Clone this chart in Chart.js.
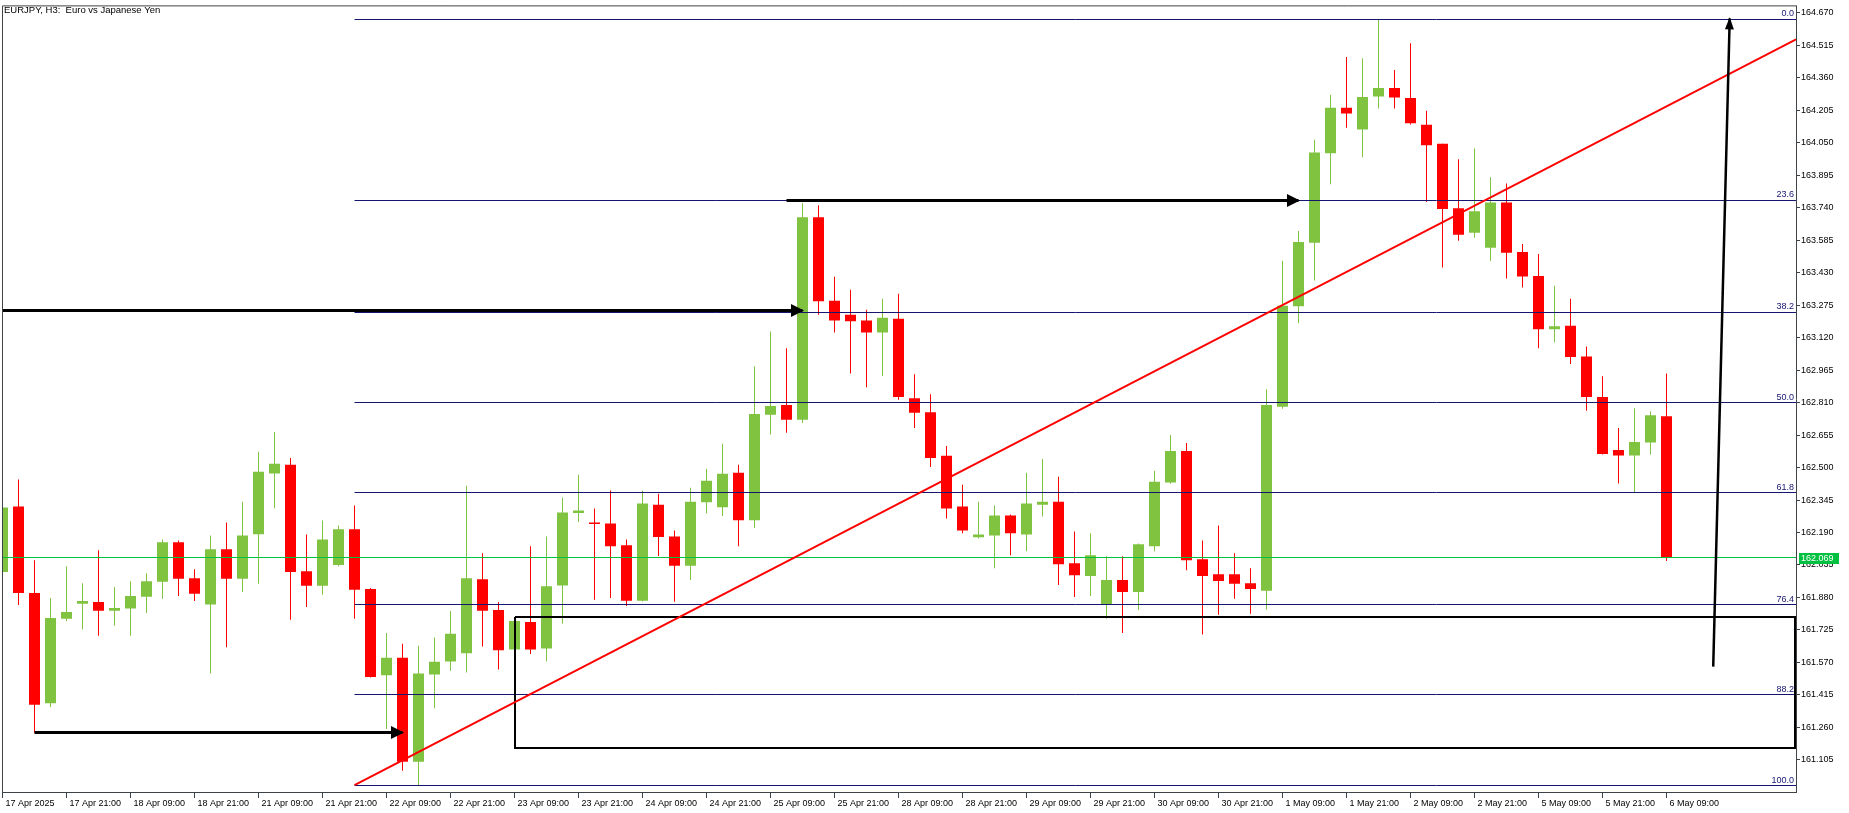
<!DOCTYPE html>
<html><head><meta charset="utf-8">
<script src="https://cdn.jsdelivr.net/npm/chart.js@4.4.1/dist/chart.umd.min.js"></script>
<style>html,body{margin:0;padding:0;background:#fff;overflow:hidden}canvas{display:block}</style>
</head><body>
<canvas id="c" width="1849" height="813"></canvas>
<script>
const chartTitle = 'EURJPY, H3:  Euro vs Japanese Yen';

const xTickIndex = [0,4,8,12,16,20,24,28,32,36,40,44,48,52,56,60,64,68,72,76,80,84,88,92,96,100,104];
const xTickLabels = ['17 Apr 2025','17 Apr 21:00','18 Apr 09:00','18 Apr 21:00','21 Apr 09:00','21 Apr 21:00',
  '22 Apr 09:00','22 Apr 21:00','23 Apr 09:00','23 Apr 21:00','24 Apr 09:00','24 Apr 21:00','25 Apr 09:00',
  '25 Apr 21:00','28 Apr 09:00','28 Apr 21:00','29 Apr 09:00','29 Apr 21:00','30 Apr 09:00','30 Apr 21:00',
  '1 May 09:00','1 May 21:00','2 May 09:00','2 May 21:00','5 May 09:00','5 May 21:00','6 May 09:00'];
const yTickLabels = ['164.670','164.515','164.360','164.205','164.050','163.895','163.740','163.585','163.430',
  '163.275','163.120','162.965','162.810','162.655','162.500','162.345','162.190','162.035','161.880',
  '161.725','161.570','161.415','161.260','161.105'];

const open = [
162.002,162.314,161.901,161.376,161.779,161.850,161.858,161.817,161.827,161.884,
161.955,162.143,161.972,161.846,162.110,161.969,162.182,162.472,162.513,162.005,
161.936,162.035,162.205,161.920,161.509,161.593,161.096,161.513,161.575,161.614,
161.967,161.820,161.632,161.763,161.637,161.937,162.283,162.238,162.233,162.129,
161.864,162.323,162.171,162.031,162.334,162.310,162.475,162.249,162.752,162.798,
162.728,163.694,163.296,163.229,163.201,163.144,163.210,162.831,162.764,162.556,
162.314,162.167,162.176,162.271,162.181,162.323,162.337,162.043,161.982,161.844,
161.963,161.906,162.124,162.428,162.579,162.062,161.991,161.991,161.948,161.912,
162.790,163.269,163.572,163.999,164.216,164.113,164.270,164.311,164.263,164.135,
164.045,163.737,163.620,163.549,163.765,163.528,163.414,163.160,163.177,163.030,
162.836,162.584,162.557,162.619,162.745];
const high = [
162.337,162.443,162.058,161.877,162.029,161.948,162.105,161.929,161.958,161.996,
162.157,162.152,162.015,162.176,162.238,162.337,162.575,162.670,162.546,162.181,
162.247,162.224,162.319,161.925,161.711,161.659,161.650,161.689,161.816,162.413,
162.091,161.858,161.778,162.124,162.171,162.356,162.466,162.304,162.390,162.157,
162.390,162.375,162.200,162.404,162.494,162.613,162.513,162.983,163.149,163.069,
163.761,163.751,163.410,163.348,163.253,163.305,163.329,162.945,162.850,162.603,
162.418,162.337,162.319,162.276,162.475,162.541,162.456,162.195,162.186,162.077,
162.077,162.138,162.485,162.655,162.617,162.152,162.224,162.091,162.020,162.874,
163.487,163.628,164.064,164.278,164.458,164.453,164.638,164.396,164.524,164.202,
164.045,163.971,164.022,163.885,163.855,163.566,163.519,163.367,163.305,163.078,
162.935,162.689,162.783,162.769,162.949];
const low = [
161.977,161.844,161.235,161.357,161.768,161.727,161.697,161.745,161.697,161.806,
161.874,161.887,161.863,161.517,161.642,161.906,161.945,162.306,161.774,161.835,
161.893,162.029,161.779,161.498,161.253,161.053,160.982,161.351,161.531,161.522,
161.646,161.537,161.626,161.610,161.575,161.755,162.240,161.869,161.877,161.839,
161.861,162.078,161.860,161.964,162.281,162.269,162.125,162.211,162.657,162.666,
162.713,163.229,163.144,162.949,162.883,162.937,162.823,162.689,162.503,162.257,
162.186,162.162,162.020,162.081,162.100,162.266,161.939,161.882,161.887,161.778,
161.711,161.820,162.100,162.423,162.010,161.703,161.798,161.874,161.803,161.822,
162.780,163.188,163.392,163.851,164.121,163.980,164.213,164.213,164.137,163.767,
163.454,163.582,163.596,163.487,163.402,163.359,163.069,163.098,162.994,162.771,
162.562,162.424,162.382,162.562,162.054];
const close = [
162.309,161.902,161.368,161.782,161.811,161.863,161.817,161.830,161.887,161.958,
162.143,161.969,161.898,162.110,161.969,162.176,162.480,162.518,162.002,161.936,
162.157,162.205,161.917,161.501,161.593,161.096,161.517,161.574,161.707,161.972,
161.817,161.628,161.768,161.632,161.934,162.285,162.295,162.231,162.125,161.864,
162.328,162.169,162.031,162.337,162.437,162.470,162.249,162.755,162.793,162.728,
163.694,163.293,163.202,163.198,163.144,163.215,162.836,162.761,162.546,162.304,
162.200,162.181,162.271,162.186,162.328,162.337,162.039,161.986,162.081,161.963,
161.906,162.134,162.432,162.579,162.058,161.983,161.959,161.945,161.921,162.798,
163.272,163.576,164.003,164.216,164.189,164.268,164.311,164.265,164.142,164.037,
163.734,163.610,163.723,163.765,163.525,163.411,163.160,163.174,163.027,162.837,
162.565,162.557,162.622,162.750,162.069];

const lastPrice = 162.069;
const lastPriceLabel = '162.069';
const fibLevelLabels = ['0.0','23.6','38.2','50.0','61.8','76.4','88.2','100.0'];
const fibPrices = [164.638,163.775,163.242,162.810,162.379,161.845,161.415,160.982];
const fibStart = 22;
const trendPoints = [[22,160.985],[112.1,164.543]];
const arrowLines = [
  [[-1,163.247],[50,163.247]],
  [[49,163.773],[81,163.773]],
  [[2,161.235],[25,161.235]],
  [[106.92,161.550],[107.95,164.643]]
];
const zoneFrom = 32, zoneTo = 112.03, zoneTop = 161.787, zoneBottom = 161.162;

const X_MIN = -0.03125, X_MAX = 112.09375, Y_MIN = 160.952, Y_MAX = 164.700;
const BULL = '#80c341', BEAR = '#ff0000', FIB = '#161670', PRICE = '#00c040', FRAME = '#3f4448';
const FONT = '"Liberation Sans", Arial, sans-serif';

const candleColors = open.map((o, i) => close[i] >= o ? BULL : BEAR);
const wickData = open.map((o, i) => ({x: i, y: [low[i], high[i]]}));
const bodyData = open.map((o, i) => ({x: i, y: [o, close[i]]}));
const pts = arr => arr.map(p => ({x: p[0], y: p[1]}));

const lineDs = (data, color, width, order, snap) => ({
  type: 'line', data, borderColor: color, borderWidth: width, pointRadius: 0, pointHoverRadius: 0,
  tension: 0, fill: false, clip: 0, order, borderCapStyle: 'butt', snap
});

const datasets = [
  {type: 'bar', data: wickData, backgroundColor: candleColors, barThickness: 1, grouped: false,
   borderWidth: 0, inflateAmount: 0, clip: 0, order: 20},
  {type: 'bar', data: bodyData, backgroundColor: candleColors, barThickness: 11, grouped: false,
   borderWidth: 0, inflateAmount: 0, minBarLength: 1, clip: 0, order: 19}
];
fibPrices.forEach(p => datasets.push(lineDs([{x: fibStart, y: p}, {x: X_MAX + 1, y: p}], FIB, 1, 10, 0.5)));
datasets.push(lineDs([{x: X_MIN - 1, y: lastPrice}, {x: X_MAX + 1, y: lastPrice}], PRICE, 1, 9, 0.5));
datasets.push(lineDs([{x: zoneFrom, y: zoneTop}, {x: zoneTo, y: zoneTop}, {x: zoneTo, y: zoneBottom},
  {x: zoneFrom, y: zoneBottom}, {x: zoneFrom, y: zoneTop}], '#000', 2, 8, 0));
datasets.push(lineDs(pts(trendPoints), '#ff0000', 2, 7));
arrowLines.forEach((a, k) => datasets.push(lineDs(pts(a), '#000', k === 3 ? 2.5 : 3, 6, k === 3 ? undefined : 0.5)));

function arrowHead(ctx, x0, y0, x1, y1, len, half) {
  const ang = Math.atan2(y1 - y0, x1 - x0), c = Math.cos(ang), s = Math.sin(ang);
  ctx.beginPath();
  ctx.moveTo(x1 + c * 1, y1 + s * 1);
  ctx.lineTo(x1 - len * c + half * s, y1 - len * s - half * c);
  ctx.lineTo(x1 - len * c - half * s, y1 - len * s + half * c);
  ctx.closePath();
  ctx.fill();
}
const snapPx = (v, off) => Math.round(v - off) + off;

const overlayPlugin = {
  id: 'overlay',
  afterDatasetsUpdate(chart) {
    chart.data.datasets.forEach((ds, i) => {
      if (ds.snap === undefined) return;
      chart.getDatasetMeta(i).data.forEach(pt => { pt.x = snapPx(pt.x, ds.snap); pt.y = snapPx(pt.y, ds.snap); });
    });
  },
  afterDatasetsDraw(chart) {
    const {ctx, chartArea: a, scales: {x, y}} = chart;
    ctx.save();
    ctx.beginPath(); ctx.rect(a.left, a.top, a.right - a.left, a.bottom - a.top); ctx.clip();
    ctx.font = '9px ' + FONT;
    ctx.fillStyle = FIB; ctx.textAlign = 'right'; ctx.textBaseline = 'alphabetic';
    fibPrices.forEach((p, i) => ctx.fillText(fibLevelLabels[i], a.right - 2, Math.round(y.getPixelForValue(p)) - 3));
    ctx.fillStyle = '#000';
    arrowLines.forEach((ln, k) => {
      let x0 = x.getPixelForValue(ln[0][0]), y0 = y.getPixelForValue(ln[0][1]);
      let x1 = x.getPixelForValue(ln[1][0]), y1 = y.getPixelForValue(ln[1][1]);
      if (k === 3) arrowHead(ctx, x0, y0, x1, y1, 11, 4.5);
      else { y0 = snapPx(y0, 0.5); y1 = y0; x1 = Math.round(x1); arrowHead(ctx, x0, y0, x1, y1, 12, 6.5); }
    });
    ctx.restore();
  },
  afterDraw(chart) {
    const {ctx, chartArea: a, scales: {y}} = chart;
    ctx.save();
    ctx.strokeStyle = FRAME; ctx.lineWidth = 1;
    ctx.beginPath();
    ctx.moveTo(a.left + 0.5, a.bottom); ctx.lineTo(a.left + 0.5, a.top - 0.5); ctx.lineTo(a.right + 1, a.top - 0.5);
    ctx.stroke();
    ctx.fillStyle = '#000'; ctx.font = '9.5px ' + FONT; ctx.textAlign = 'left'; ctx.textBaseline = 'alphabetic';
    ctx.fillText(chartTitle, 4, 12.5);
    const py = Math.round(y.getPixelForValue(lastPrice));
    ctx.fillStyle = PRICE;
    ctx.fillRect(a.right + 3, py - 5, 40, 11);
    ctx.fillStyle = '#fff'; ctx.font = '9px ' + FONT; ctx.textBaseline = 'middle';
    ctx.fillText(lastPriceLabel, a.right + 5, py + 0.5);
    ctx.restore();
  }
};

new Chart(document.getElementById('c'), {
  type: 'bar',
  data: {datasets},
  plugins: [overlayPlugin],
  options: {
    responsive: false, animation: false, devicePixelRatio: 1,
    layout: {padding: {left: 2, top: 2, right: 0, bottom: 0}},
    plugins: {legend: {display: false}, tooltip: {enabled: false}, title: {display: false}},
    events: [],
    scales: {
      x: {
        type: 'linear', min: X_MIN, max: X_MAX, offset: false, position: 'bottom',
        afterBuildTicks: s => { s.ticks = xTickIndex.map(v => ({value: v})); },
        afterFit: s => { s.height = 21; },
        grid: {display: true, drawOnChartArea: false, drawTicks: true, tickLength: 6, color: FRAME, offset: false},
        border: {display: true, color: FRAME, width: 1},
        ticks: {autoSkip: false, maxRotation: 0, minRotation: 0, align: 'start', labelOffset: 3, padding: 0,
          color: '#000', font: {family: FONT, size: 9},
          callback: (v, i) => xTickLabels[i]}
      },
      y: {
        type: 'linear', min: Y_MIN, max: Y_MAX, position: 'right',
        afterBuildTicks: s => { s.ticks = yTickLabels.map(t => ({value: parseFloat(t)})); },
        afterFit: s => { s.width = 53; },
        grid: {display: true, drawOnChartArea: false, drawTicks: true, tickLength: 4, color: FRAME},
        border: {display: true, color: FRAME, width: 1},
        ticks: {autoSkip: false, padding: 1, color: '#000', font: {family: FONT, size: 9},
          callback: (v, i) => yTickLabels[i]}
      }
    }
  }
});
</script>
</body></html>
